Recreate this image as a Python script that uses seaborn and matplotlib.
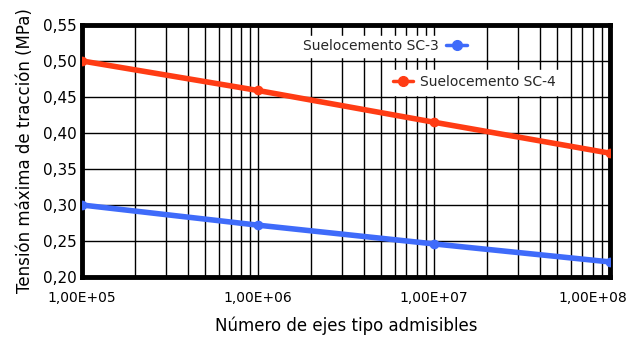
import matplotlib
matplotlib.use("Agg")
import matplotlib.pyplot as plt
import matplotlib.transforms as mtransforms
import seaborn as sns
import pandas as pd
import numpy as np
from matplotlib.ticker import FixedLocator, FuncFormatter, LogLocator, NullFormatter
from matplotlib.lines import Line2D

ejes = [1e5, 1e6, 1e7, 1e8]
sc3 = [0.300, 0.272, 0.246, 0.221]
sc4 = [0.500, 0.459, 0.415, 0.372]
series_names = ["Suelocemento SC-3", "Suelocemento SC-4"]
colors = ["#3F6BFA", "#FF3C14"]
yticks = [0.20, 0.25, 0.30, 0.35, 0.40, 0.45, 0.50, 0.55]

df = pd.DataFrame({
    "N": ejes * 2,
    "T": sc3 + sc4,
    "serie": [series_names[0]] * 4 + [series_names[1]] * 4,
})

sns.set_theme(style="white")
plt.rcParams['font.family'] = ['DejaVu Sans']

fig = plt.figure(figsize=(6.38, 3.37), dpi=100)
ax = fig.add_axes([0.1285, 0.178, 0.827, 0.748])

sns.lineplot(data=df, x="N", y="T", hue="serie", palette=colors, marker="o",
             markersize=7, markeredgewidth=0, linewidth=4, ax=ax, legend=False, zorder=3)

ax.set_xscale("log")
ax.set_xlim(1e5, 1e8)
ax.set_ylim(0.20, 0.55)
ax.xaxis.set_major_locator(FixedLocator(ejes))
ax.xaxis.set_minor_locator(LogLocator(base=10, subs=np.arange(2, 10)))
ax.xaxis.set_minor_formatter(NullFormatter())
ax.xaxis.set_major_formatter(FuncFormatter(lambda v, p: ("%.2E" % v).replace(".", ",")))
ax.yaxis.set_major_locator(FixedLocator(yticks))
ax.yaxis.set_major_formatter(FuncFormatter(lambda v, p: ("%.2f" % v).replace(".", ",")))

ax.grid(True, which="both", axis="x", color="black", linewidth=1.0)
ax.grid(True, which="major", axis="y", color="black", linewidth=1.0)
ax.set_axisbelow(True)
for s in ax.spines.values():
    s.set_color("black")
    s.set_linewidth(3.5)
ax.tick_params(axis="y", which="both", length=0, labelsize=11, colors="black", pad=4)
ax.tick_params(axis="x", which="both", length=0, labelsize=10, colors="black", pad=10)

ax.set_xlabel("Número de ejes tipo admisibles", fontsize=12, color="black", labelpad=8)
ax.set_ylabel("Tensión máxima de tracción (MPa)", fontsize=12, color="black", labelpad=6)

fig.canvas.draw()
last = ax.get_xticklabels()[-1]
last.set_transform(last.get_transform() +
                   mtransforms.ScaledTranslation(-12 / 72, 0, fig.dpi_scale_trans))

h3 = Line2D([], [], color=colors[0], marker="o", markersize=7, linewidth=2.5)
h4 = Line2D([], [], color=colors[1], marker="o", markersize=7, linewidth=2.5)
leg1 = ax.legend([h3], [series_names[0]], loc="upper left", bbox_to_anchor=(0.40, 0.985),
                 markerfirst=False, frameon=True, framealpha=1, edgecolor="white",
                 fancybox=False, fontsize=10, handlelength=1.5, borderpad=0.25,
                 handletextpad=0.5)
ax.add_artist(leg1)
leg2 = ax.legend([h4], [series_names[1]], loc="upper left", bbox_to_anchor=(0.565, 0.85),
                 markerfirst=True, frameon=True, framealpha=1, edgecolor="white",
                 fancybox=False, fontsize=10, handlelength=1.5, borderpad=0.4,
                 handletextpad=0.5)

fig.savefig("out.png", dpi=100, facecolor="white")
